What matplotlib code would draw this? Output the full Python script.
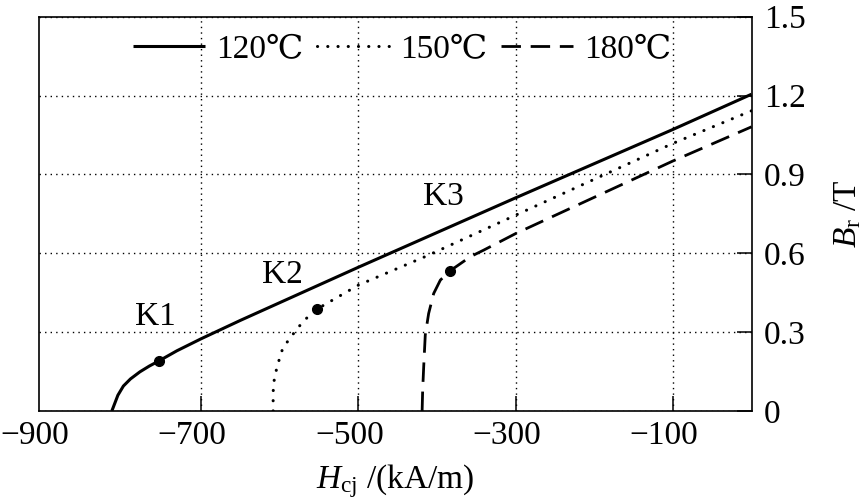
import numpy as np
import matplotlib
matplotlib.use('Agg')
import matplotlib.pyplot as plt
from matplotlib.transforms import ScaledTranslation

# Demagnetization curves
h_120 = [-813.7, -806, -799, -790, -778, -766, -753.5, -731, -700, -650, -500, -300, -100, 0]
b_120 = [0, 0.06, 0.095, 0.122, 0.149, 0.171, 0.191, 0.229, 0.275, 0.345, 0.547, 0.811, 1.071, 1.205]

h_150 = [-608.5, -608.5, -608, -603.6, -597, -589, -576, -567.5, -552.5, -500, -413, -300, -100, 0]
b_150 = [0, 0.067, 0.105, 0.168, 0.232, 0.27, 0.32, 0.349, 0.388, 0.479, 0.59, 0.745, 1.018, 1.142]

h_180 = [-419, -418.3, -417, -415, -410.7, -404.3, -395.8, -384, -357.6, -340.7, -300, -100, 0]
b_180 = [0, 0.08, 0.168, 0.289, 0.371, 0.447, 0.498, 0.532, 0.587, 0.612, 0.675, 0.951, 1.081]

# knee points K1..K3 and where their labels sit
knee_names = ['K1', 'K2', 'K3']
knee_h = [-753.5, -552.5, -384]
knee_b = [0.191, 0.388, 0.532]
label_h = [-758.6, -597, -392]
label_b = [0.359, 0.517, 0.815]

series_names = ['120℃', '150℃', '180℃']
x_ticks = [-900, -700, -500, -300, -100]
y_ticks = [0, 0.3, 0.6, 0.9, 1.2, 1.5]
y_tick_labels = ['0', '0.3', '0.6', '0.9', '1.2', '1.5']

plt.rcParams['font.family'] = ['Liberation Serif', 'DejaVu Serif']
plt.rcParams['mathtext.fontset'] = 'custom'
plt.rcParams['mathtext.rm'] = 'Liberation Serif'
plt.rcParams['mathtext.it'] = 'Liberation Serif:italic'
plt.rcParams['axes.unicode_minus'] = True

fig = plt.figure(figsize=(8.65, 5.04), dpi=100)
ax = fig.add_axes([0.0454, 0.1845, 0.8234, 0.7824])

lw = 2.2
l1, = ax.plot(h_120, b_120, color='black', lw=lw, ls='-', solid_capstyle='butt')
l2, = ax.plot(h_150, b_150, color='black', lw=lw, ls=(0, (0.05, 3.3)), dash_capstyle='round')
l3, = ax.plot(h_180, b_180, color='black', lw=2.0, ls=(0, (7, 3.5)), dash_capstyle='butt')

ax.plot(knee_h, knee_b, 'o', color='black', ms=7, zorder=5)
for name, hx, by in zip(knee_names, label_h, label_b):
    ax.text(hx, by, name, fontsize=24, ha='center', va='center')

ax.set_xlim(-906, 0)
ax.set_ylim(0, 1.5)
ax.set_xticks(x_ticks)
ax.set_yticks(y_ticks, y_tick_labels)
ax.yaxis.tick_right()
ax.yaxis.set_label_position('right')
ax.tick_params(axis='both', direction='in', length=11, width=1.1, labelsize=24)
ax.tick_params(axis='x', pad=7)
ax.tick_params(axis='y', pad=9)

ax.grid(True, color='black', lw=1.0, ls=(0, (1, 3)))
for s in ax.spines.values():
    s.set_linewidth(1.2)

# no tick or grid line at -900, it sits on the left spine
first = ax.xaxis.get_major_ticks()[0]
first.tick1line.set_visible(False)
first.gridline.set_visible(False)

# centre the digits under the tick, the minus sign hangs to the left
shift = ScaledTranslation(-9 / 100, 0, fig.dpi_scale_trans)
for lab in ax.get_xticklabels():
    lab.set_transform(lab.get_transform() + shift)

ax.set_xlabel(r'$H_{\mathrm{cj}}$ /(kA/m)', fontsize=24, labelpad=8)
ax.set_ylabel(r'$B_{\mathrm{r}}$ /T', fontsize=24, rotation=90, labelpad=19)

ax.legend([l1, l2, l3], series_names, loc='center', bbox_to_anchor=(0.51, 0.916),
          ncol=3, frameon=False, fontsize=24, handlelength=2.15, handletextpad=0.35,
          columnspacing=0.4, borderpad=0, borderaxespad=0)

fig.savefig('out.png', dpi=100)
